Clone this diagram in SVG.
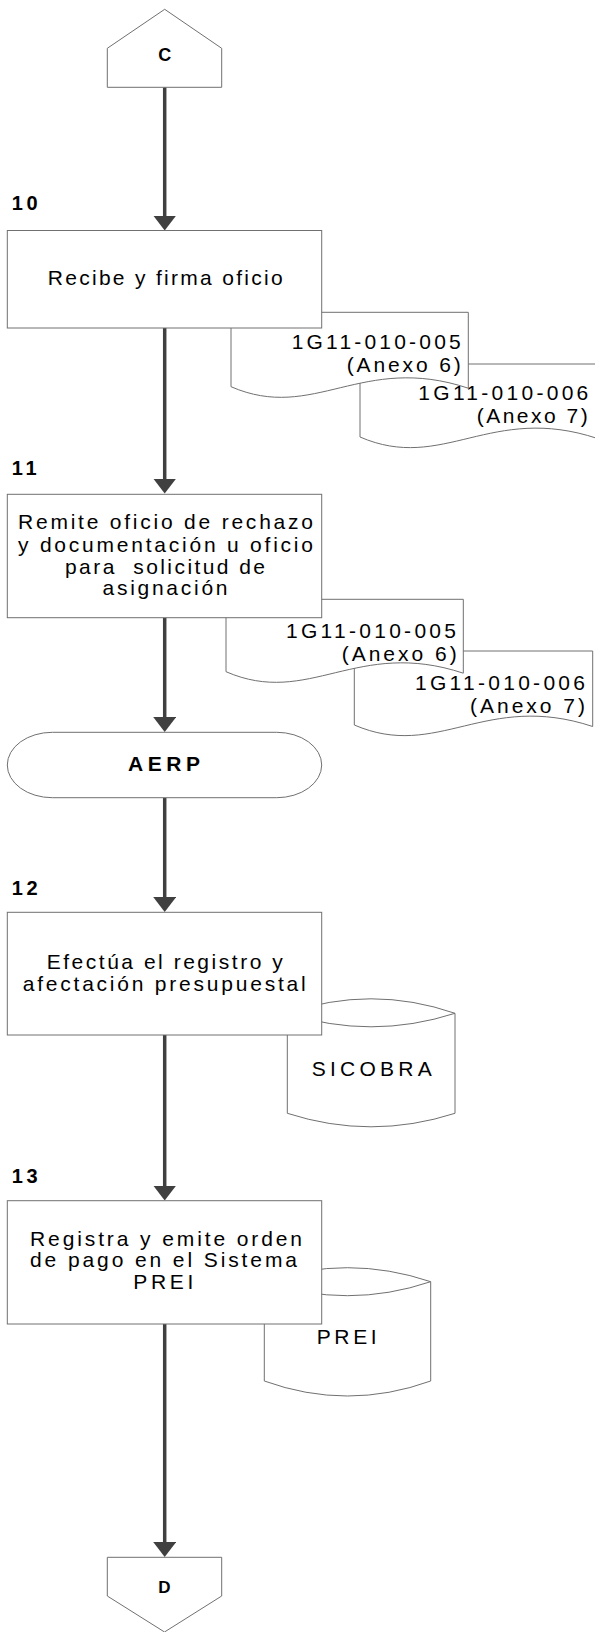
<svg xmlns="http://www.w3.org/2000/svg" width="595" height="1632" viewBox="0 0 595 1632">
<style>
.shape{fill:#fff;stroke:#707070;stroke-width:1}
.arc{fill:none;stroke:#707070;stroke-width:1}
.t{font-family:"Liberation Sans",Arial,sans-serif;font-size:21px;fill:#000;white-space:pre}
.d{font-family:"Liberation Sans",Arial,sans-serif;font-size:21px;fill:#000}
.b{font-family:"Liberation Sans",Arial,sans-serif;font-weight:bold;fill:#000}
.conn{stroke:#404040;stroke-width:3.5;fill:none;marker-end:url(#ah)}
</style>
<defs>
<marker id="ah" viewBox="0 0 15 23" refX="2" refY="11.5" markerWidth="15" markerHeight="23" markerUnits="userSpaceOnUse" orient="auto">
<path d="M0,0 L15,11.5 L0,23 Z" fill="#404040"/>
</marker>
</defs>

<g id="connectors">
<line class="conn" x1="164.7" y1="87.3" x2="164.7" y2="217.5"/>
<line class="conn" x1="164.7" y1="328" x2="164.7" y2="480.5"/>
<line class="conn" x1="164.7" y1="617.7" x2="164.7" y2="719"/>
<line class="conn" x1="164.7" y1="797.7" x2="164.7" y2="899"/>
<line class="conn" x1="164.7" y1="1035" x2="164.7" y2="1187.5"/>
<line class="conn" x1="164.7" y1="1324" x2="164.7" y2="1544"/>
</g>

<g id="connector-C">
<polygon class="shape" points="107.3,48.3 164.7,9.3 221.7,48.3 221.7,87.3 107.3,87.3"/>
<text class="b" x="164.7" y="61" font-size="18" text-anchor="middle">C</text>
</g>

<g id="doc-1G11-010-006-a">
<path class="shape" d="M360,364 H597.5 V438.5 C490.6,403 443.1,473 360,437 Z"/>
<text class="d" x="418.3" y="400" textLength="170" lengthAdjust="spacing">1G11-010-006</text>
<text class="d" x="476.7" y="423" textLength="111" lengthAdjust="spacing">(Anexo 7)</text>
</g>
<g id="doc-1G11-010-005-a">
<path class="shape" d="M231,312.3 H468.3 V388.2 C361.5,352.7 314,422.7 231,386.7 Z"/>
<text class="d" x="291.7" y="349" textLength="169" lengthAdjust="spacing">1G11-010-005</text>
<text class="d" x="346.7" y="372" textLength="114" lengthAdjust="spacing">(Anexo 6)</text>
</g>

<g id="step-10">
<text class="b" x="11.7" y="210" font-size="20" textLength="26" lengthAdjust="spacing">10</text>
<rect class="shape" x="7.3" y="230.5" width="314.4" height="97.5"/>
<text class="t" x="47.7" y="285" textLength="235" lengthAdjust="spacing">Recibe y firma oficio</text>
</g>

<g id="doc-1G11-010-006-b">
<path class="shape" d="M354.3,651 H592.7 V726.5 C485.4,691 437.7,761 354.3,725 Z"/>
<text class="d" x="415" y="690" textLength="170" lengthAdjust="spacing">1G11-010-006</text>
<text class="d" x="470" y="712.7" textLength="115" lengthAdjust="spacing">(Anexo 7)</text>
</g>
<g id="doc-1G11-010-005-b">
<path class="shape" d="M226,599.3 H463.3 V673.2 C356.5,637.7 309,707.7 226,671.7 Z"/>
<text class="d" x="286" y="638.3" textLength="170" lengthAdjust="spacing">1G11-010-005</text>
<text class="d" x="341.7" y="660.7" textLength="115" lengthAdjust="spacing">(Anexo 6)</text>
</g>

<g id="step-11">
<text class="b" x="11.7" y="475" font-size="20" textLength="25" lengthAdjust="spacing">11</text>
<rect class="shape" x="7.3" y="494.3" width="314.4" height="123.4"/>
<text class="t" x="18" y="529.3" textLength="295" lengthAdjust="spacing">Remite oficio de rechazo</text>
<text class="t" x="18" y="551.7" textLength="295" lengthAdjust="spacing">y documentación u oficio</text>
<text class="t" x="65" y="574" textLength="200" lengthAdjust="spacing">para  solicitud de</text>
<text class="t" x="102.5" y="595" textLength="125" lengthAdjust="spacing">asignación</text>
</g>

<g id="terminator-AERP">
<rect class="shape" x="7.3" y="732.3" width="314.4" height="65.4" rx="45" ry="32.7"/>
<text class="b" x="128" y="771" font-size="21" textLength="72" lengthAdjust="spacing">AERP</text>
</g>

<g id="db-SICOBRA">
<path class="shape" d="M287.3,1013.3 Q371,984.3 455,1013.3 V1113.3 Q371,1140.3 287.3,1113.3 Z"/>
<path class="arc" d="M287.3,1013.3 Q371,1040.3 455,1013.3"/>
<text class="t" x="311.7" y="1076" textLength="120" lengthAdjust="spacing">SICOBRA</text>
</g>

<g id="step-12">
<text class="b" x="11.7" y="895" font-size="20" textLength="26" lengthAdjust="spacing">12</text>
<rect class="shape" x="7.3" y="912.3" width="314.4" height="122.7"/>
<text class="t" x="46.7" y="969" textLength="236" lengthAdjust="spacing">Efectúa el registro y</text>
<text class="t" x="22.7" y="991" textLength="283" lengthAdjust="spacing">afectación presupuestal</text>
</g>

<g id="db-PREI">
<path class="shape" d="M264.3,1281.7 Q347.5,1253.7 430.7,1281.7 V1381 Q347.5,1411 264.3,1381 Z"/>
<path class="arc" d="M264.3,1281.7 Q347.5,1309.7 430.7,1281.7"/>
<text class="t" x="316.7" y="1344.3" textLength="60" lengthAdjust="spacing">PREI</text>
</g>

<g id="step-13">
<text class="b" x="11.7" y="1183.3" font-size="20" textLength="26" lengthAdjust="spacing">13</text>
<rect class="shape" x="7.3" y="1200.7" width="314.4" height="123.3"/>
<text class="t" x="30" y="1245.7" textLength="272" lengthAdjust="spacing">Registra y emite orden</text>
<text class="t" x="30" y="1267.3" textLength="267" lengthAdjust="spacing">de pago en el Sistema</text>
<text class="t" x="133.3" y="1289.3" textLength="60" lengthAdjust="spacing">PREI</text>
</g>

<g id="connector-D">
<polygon class="shape" points="107.3,1557.3 221.7,1557.3 221.7,1596 164.5,1632 107.3,1596"/>
<text class="b" x="164.3" y="1593" font-size="17" text-anchor="middle">D</text>
</g>
</svg>
